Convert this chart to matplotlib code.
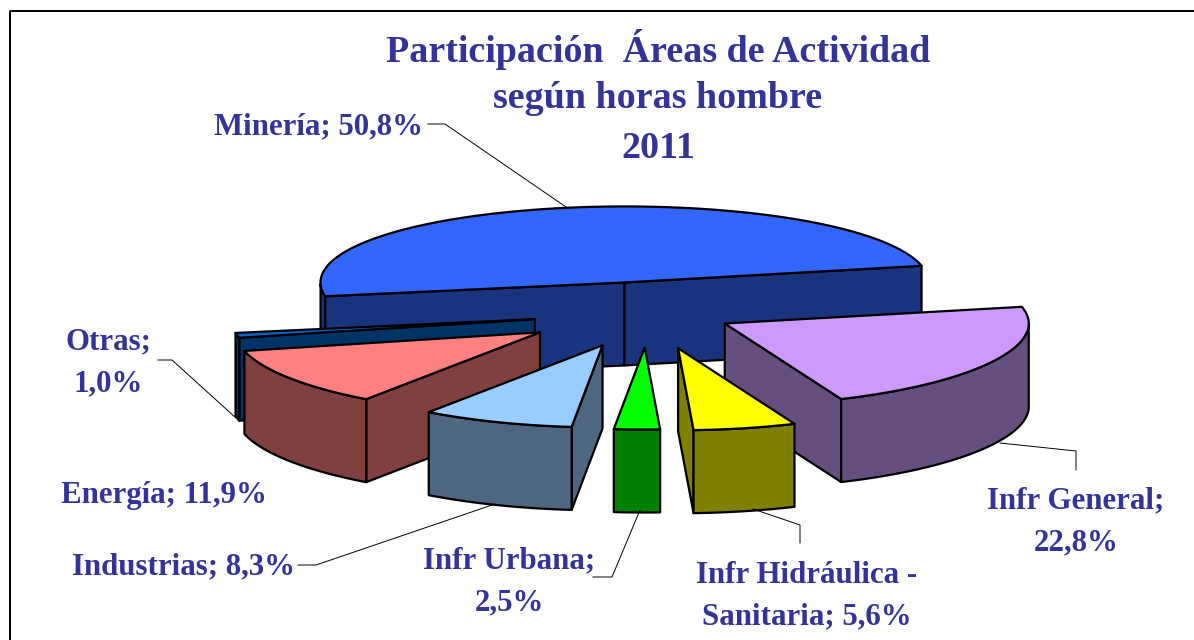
import numpy as np
import matplotlib
matplotlib.use("Agg")
import matplotlib.pyplot as plt
from matplotlib.patches import Polygon

# chart data, in the order the pie goes round (clockwise)
names = ["Minería", "Infr General", "Infr Hidráulica", "Infr Urbana", "Industrias", "Energía", "Otras"]
values = [50.8, 22.8, 5.6, 2.5, 8.3, 11.9, 1.0]
explode = [0.40, 0.285, 0.45, 0.43, 0.43, 0.43, 0.38]
top_colors = ["#3366FF", "#CC99FF", "#FFFF00", "#00FF00", "#99CCFF", "#FF8080", "#0066CC"]
wall_colors = ["#1A337F", "#664F7F", "#808000", "#008000", "#4F6680", "#804040", "#003366"]

# back to front, so nearer slices cover the others
draw_order = [0, 6, 5, 1, 4, 2, 3]

# pie geometry in pixels
cx, cy = 648, 313
rx = 304
ry = 79
tilt = 3
height = 83
start_angle = 190

text_color = "#333399"
serif = "Liberation Serif"


def project(x, y, ax0, ay0):
    # flat pie coords to screen, front a bit bigger than back
    return ax0 + rx * x, ay0 - y * (ry - tilt * y)


fig = plt.figure(figsize=(11.94, 6.4), dpi=100)
ax = fig.add_axes([0, 0, 1, 1])
ax.set_xlim(0, 1194)
ax.set_ylim(640, 0)
ax.axis("off")

# frame of the chart area, right and bottom sides are cut off in the picture
ax.plot([10, 10, 1194], [640, 11, 11], color="black", lw=1.4)

spans = np.array(values) / sum(values) * 360
ends = start_angle - np.cumsum(spans)
starts = ends + spans


def draw_slice(i):
    a0 = np.radians(starts[i])
    a1 = np.radians(ends[i])
    mid = (a0 + a1) / 2
    ox, oy = project(explode[i] * np.cos(mid), explode[i] * np.sin(mid), cx, cy)

    t = np.linspace(a0, a1, 120)
    px, py = project(np.cos(t), np.sin(t), ox, oy)
    rim = np.column_stack([px, py])
    apex = np.array([ox, oy])
    down = np.array([0, height])
    style = dict(edgecolor="black", lw=1.6, joinstyle="round")

    # the cut faces, only those turned towards the viewer
    if np.cos(a0) < 0:
        face = [apex, rim[0], rim[0] + down, apex + down]
        ax.add_patch(Polygon(face, facecolor=wall_colors[i], **style))
    if np.cos(a1) > 0:
        face = [apex, rim[-1], rim[-1] + down, apex + down]
        ax.add_patch(Polygon(face, facecolor=wall_colors[i], **style))

    # outer wall, only the part facing the viewer
    front = np.sin(t) < 0
    if front.any():
        part = rim[front]
        wall = np.vstack([part, part[::-1] + down])
        ax.add_patch(Polygon(wall, facecolor=wall_colors[i], **style))

    top = np.vstack([apex, rim])
    ax.add_patch(Polygon(top, facecolor=top_colors[i], **style))


for i in draw_order:
    draw_slice(i)

# leader lines
leaders = [
    ([428, 445, 566], [124, 124, 207]),
    ([158, 172, 236], [360, 360, 418]),
    ([298, 316, 495], [565, 565, 504]),
    ([593, 612, 640], [577, 577, 510]),
    ([753, 800, 800], [509, 525, 543]),
    ([1000, 1076, 1076], [443, 451, 470]),
]
for lx, ly in leaders:
    ax.plot(lx, ly, color="black", lw=0.7)

# title, one text per line
title_lines = ["Participación  Áreas de Actividad", "según horas hombre", "2011"]
title_y = [49, 99, 149]
for s, y in zip(title_lines, title_y):
    ax.text(658, y, s, ha="center", va="center", family=serif, weight="bold",
            size=27.4, color=text_color)

# labels, same order as names
label_text = [
    "Minería; 50,8%",
    "Infr General;\n22,8%",
    "Infr Hidráulica -\nSanitaria; 5,6%",
    "Infr Urbana;\n2,5%",
    "Industrias; 8,3%",
    "Energía; 11,9%",
    "Otras;\n1,0%",
]
label_x = [319, 1076, 807, 509, 183, 164, 108]
label_y = [127, 522, 596, 582, 567, 495, 363]
for s, x, y in zip(label_text, label_x, label_y):
    ax.text(x, y, s, ha="center", va="center", family=serif, weight="bold",
            size=22.2, color=text_color, linespacing=1.58)

plt.savefig("out.png", dpi=100)
